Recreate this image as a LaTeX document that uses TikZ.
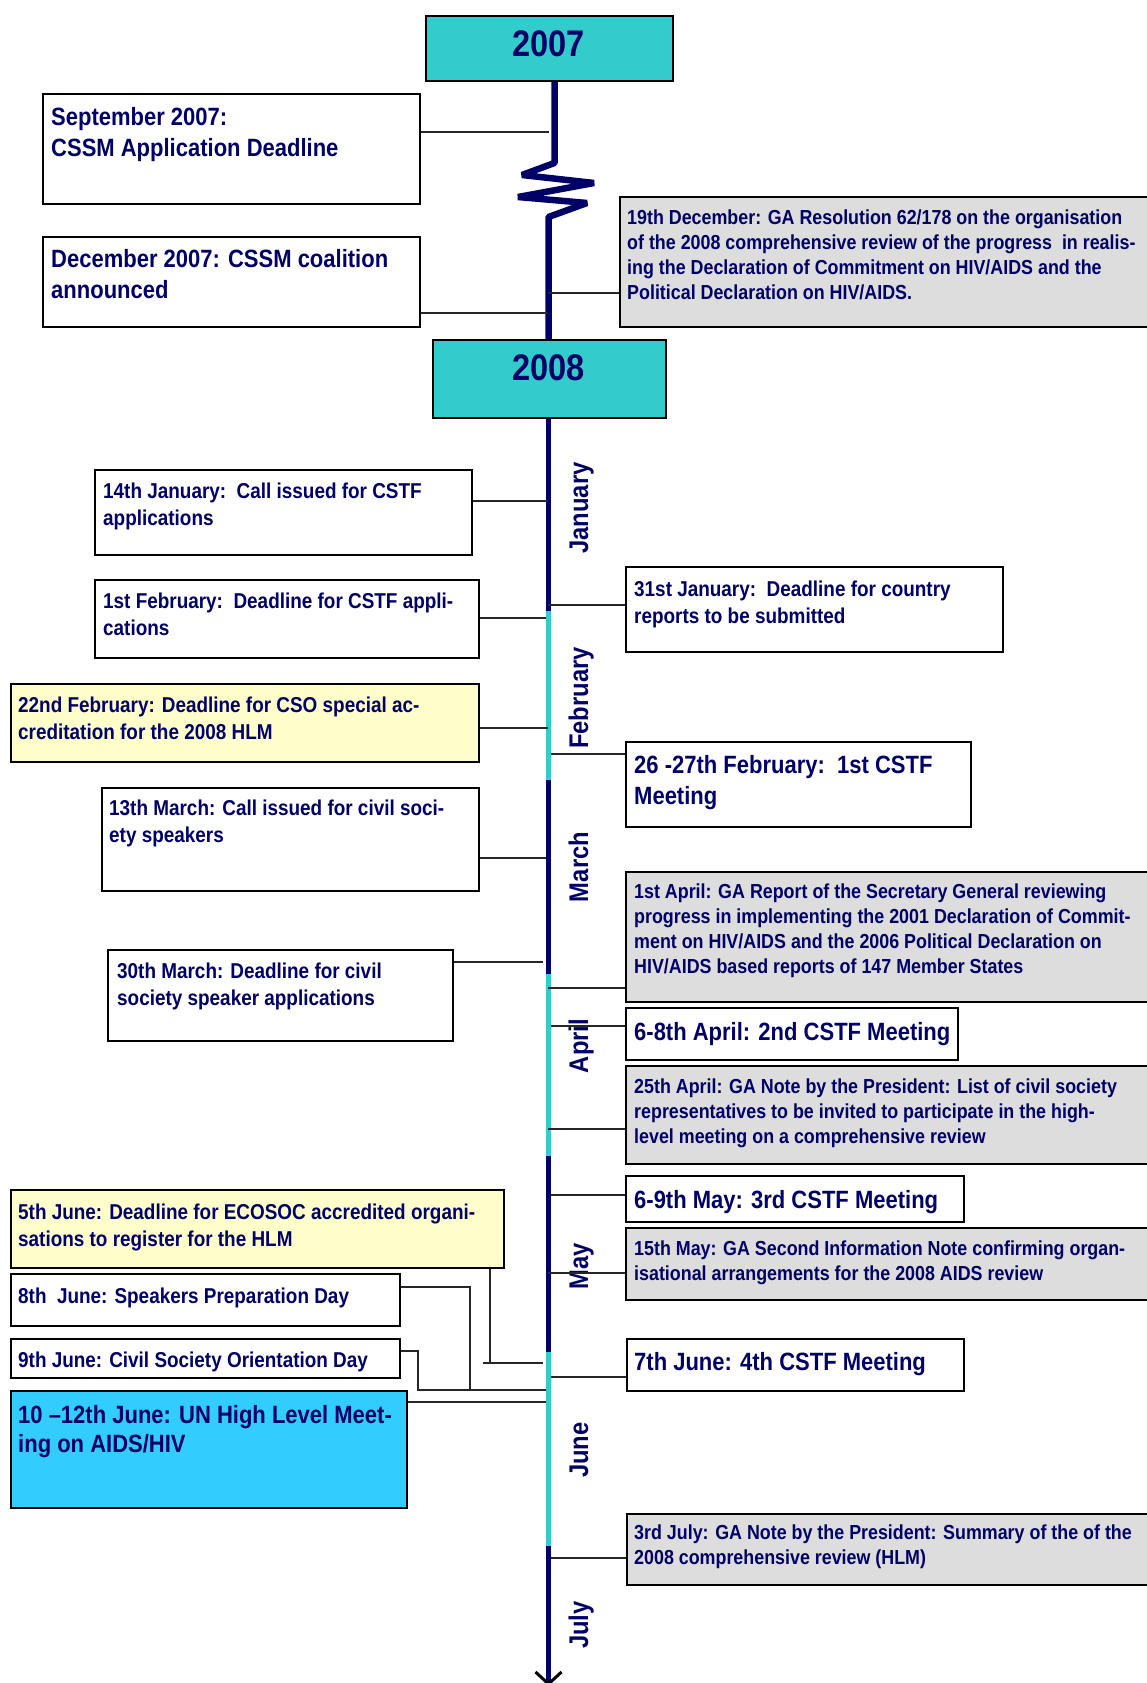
\documentclass[tikz,border=0pt]{standalone}
\usepackage{fontspec}
\newfontfamily\tf{Liberation Sans}[FakeStretch=0.88]
\usetikzlibrary{arrows.meta}
\definecolor{navy}{HTML}{000066}
\definecolor{tealb}{HTML}{33CCCC}
\definecolor{hlmb}{HTML}{33CCFF}
\definecolor{yelb}{HTML}{FFFFCC}
\definecolor{gryb}{HTML}{DDDDDD}
\newcommand\evL{\tf\bfseries\fontsize{25}{31}\selectfont}
\newcommand\evLH{\tf\bfseries\fontsize{25}{29}\selectfont}
\newcommand\evM{\tf\bfseries\fontsize{21.5}{27.5}\selectfont}
\newcommand\evS{\tf\bfseries\fontsize{20.3}{25}\selectfont}
\newcommand\evY{\tf\bfseries\fontsize{37}{40}\selectfont}
\newcommand\evMo{\tf\bfseries\fontsize{27}{30}\selectfont}
\tikzset{
  box/.style={draw=black, line width=2pt, anchor=north west, inner sep=0pt},
  ev/.style={anchor=base west, inner sep=0pt, text=navy},
  con/.style={draw=black!85, line width=1.5pt},
  axisl/.style={line width=5.5pt, draw=navy, line join=bevel},
  axisc/.style={line width=5.5pt, draw=tealb},
  mon/.style={rotate=90, anchor=base, inner sep=0pt, text=navy, font=\evMo},
}
\newcommand\ebox[6]{\node[box,fill=#2,minimum width={#5-#3},minimum height={#6-#4}] (#1) at (#3,#4) {};}
\newcommand\etext[4]{\node[ev,font=#2] (#1) at (#3) {\parbox[t]{700pt}{\raggedright #4}};}
\begin{document}
\begin{tikzpicture}[x=1pt,y=-1pt]
\clip (0,0) rectangle (1147,1683);
\fill[white] (0,0) rectangle (1147,1683);

% ---- axis above 2008 with break
\coordinate (z0) at (554.5,80);
\coordinate (z1) at (554.5,163);
\coordinate (z2) at (522,175);
\coordinate (z3) at (594,183);
\coordinate (z4) at (518,197);
\coordinate (z5) at (587,203);
\coordinate (z6) at (548.5,217);
\coordinate (z7) at (548.5,339);
\draw[axisl, line width=6.5pt] (z0) -- (z1) -- (z2) -- (z3) -- (z4) -- (z5) -- (z6) -- (z7);

% ---- month segments
\coordinate (m0) at (548.5,417);
\coordinate (m1) at (548.5,611);
\coordinate (m2) at (548.5,780);
\coordinate (m3) at (548.5,974);
\coordinate (m4) at (548.5,1156);
\coordinate (m5) at (548.5,1352);
\coordinate (m6) at (548.5,1546);
\coordinate (m7) at (548.5,1686);
\draw[axisl] (m0) -- (m1);
\draw[axisc] (m1) -- (m2);
\draw[axisl] (m2) -- (m3);
\draw[axisc] (m3) -- (m4);
\draw[axisl] (m4) -- (m5);
\draw[axisc] (m5) -- (m6);
\draw[axisl, -{Straight Barb[length=12pt, width=26pt, line width=3pt, color=black]}] (m6) -- (m7);

% ---- month labels
\node[mon] (lJan) at (588,508) {January};
\node[mon] (lFeb) at (588,698) {February};
\node[mon] (lMar) at (588,867) {March};
\node[mon] (lApr) at (588,1046) {April};
\node[mon] (lMay) at (588,1266) {May};
\node[mon] (lJun) at (588,1450) {June};
\node[mon] (lJul) at (588,1625) {July};

% ---- year boxes
\ebox{y2007}{tealb}{425}{15}{672}{80}
\node[anchor=base, inner sep=0pt, text=navy, font=\evY] (y2007t) at (548.5,57) {2007};
\ebox{y2008}{tealb}{432}{339}{665}{417}
\node[anchor=base, inner sep=0pt, text=navy, font=\evY] (y2008t) at (548.5,380) {2008};

% ---- left side boxes
\ebox{sep07}{white}{42}{93}{419}{203}
\etext{sep07t}{\evL}{51,126}{September 2007:\\CSSM Application Deadline}
\ebox{dec07}{white}{42}{236}{419}{326}
\etext{dec07t}{\evL}{51,267}{December 2007: CSSM coalition\\announced}
\ebox{jan14}{white}{94}{469}{471}{554}
\etext{jan14t}{\evM}{103,498}{14th January:\ \ Call issued for CSTF\\applications}
\ebox{feb1}{white}{94}{579}{478}{657}
\etext{feb1t}{\evM}{103,608}{1st February:\ \ Deadline for CSTF appli-\\cations}
\ebox{feb22}{yelb}{10}{683}{478}{761}
\etext{feb22t}{\evM}{18,712}{22nd February: Deadline for CSO special ac-\\creditation for the 2008 HLM}
\ebox{mar13}{white}{101}{787}{478}{890}
\etext{mar13t}{\evM}{109,815}{13th March: Call issued for civil soci-\\ety speakers}
\ebox{mar30}{white}{107}{949}{452}{1040}
\etext{mar30t}{\evM}{117,978}{30th March: Deadline for civil\\society speaker applications}
\ebox{jun5}{yelb}{10}{1189}{503}{1267}
\etext{jun5t}{\evM}{18,1219}{5th June: Deadline for ECOSOC accredited organi-\\sations to register for the HLM}
\ebox{jun8}{white}{10}{1273}{399}{1325}
\etext{jun8t}{\evM}{18,1303}{8th\ \ June: Speakers Preparation Day}
\ebox{jun9}{white}{10}{1338}{399}{1377}
\etext{jun9t}{\evM}{18,1367}{9th June: Civil Society Orientation Day}
\ebox{hlm}{hlmb}{10}{1390}{406}{1507}
\etext{hlmt}{\evLH}{18,1423}{10 –12th June: UN High Level Meet-\\ing on AIDS/HIV}

% ---- right side boxes
\ebox{dec19}{gryb}{619}{196}{1160}{326}
\etext{dec19t}{\evS}{627,224}{19th December: GA Resolution 62/178 on the organisation\\of the 2008 comprehensive review of the progress\ \ in realis-\\ing the Declaration of Commitment on HIV/AIDS and the\\Political Declaration on HIV/AIDS.}
\ebox{jan31}{white}{625}{566}{1002}{651}
\etext{jan31t}{\evM}{634,596}{31st January:\ \ Deadline for country\\reports to be submitted}
\ebox{feb26}{white}{625}{741}{970}{826}
\etext{feb26t}{\evL}{634,773}{26 -27th February:\ \ 1st CSTF\\Meeting}
\ebox{apr1}{gryb}{625}{871}{1160}{1001}
\etext{apr1t}{\evS}{634,898}{1st April: GA Report of the Secretary General reviewing\\progress in implementing the 2001 Declaration of Commit-\\ment on HIV/AIDS and the 2006 Political Declaration on\\HIV/AIDS based reports of 147 Member States}
\ebox{apr6}{white}{625}{1007}{957}{1059}
\etext{apr6t}{\evL}{634,1040}{6-8th April: 2nd CSTF Meeting}
\ebox{apr25}{gryb}{625}{1065}{1160}{1163}
\etext{apr25t}{\evS}{634,1093}{25th April: GA Note by the President: List of civil society\\representatives to be invited to participate in the high-\\level meeting on a comprehensive review}
\ebox{may6}{white}{625}{1175}{963}{1221}
\etext{may6t}{\evL}{634,1208}{6-9th May: 3rd CSTF Meeting}
\ebox{may15}{gryb}{625}{1227}{1160}{1299}
\etext{may15t}{\evS}{634,1255}{15th May: GA Second Information Note confirming organ-\\isational arrangements for the 2008 AIDS review}
\ebox{jun7}{white}{626}{1338}{963}{1390}
\etext{jun7t}{\evL}{634,1370}{7th June: 4th CSTF Meeting}
\ebox{jul3}{gryb}{626}{1513}{1160}{1584}
\etext{jul3t}{\evS}{634,1539}{3rd July: GA Note by the President: Summary of the of the\\2008 comprehensive review (HLM)}

% ---- connectors
\coordinate (cSep) at (549,132);   \draw[con] (cSep) -- (cSep -| sep07.east);
\coordinate (cDec) at (548,313);   \draw[con] (cDec) -- (cDec -| dec07.east);
\coordinate (cD19) at (548,293);   \draw[con] (cD19) -- (cD19 -| dec19.west);
\coordinate (cJ14) at (548,501);   \draw[con] (cJ14) -- (cJ14 -| jan14.east);
\coordinate (cJ31) at (548,605);   \draw[con] (cJ31) -- (cJ31 -| jan31.west);
\coordinate (cF1)  at (546,618);   \draw[con] (cF1) -- (cF1 -| feb1.east);
\coordinate (cF22) at (548,728);   \draw[con] (cF22) -- (cF22 -| feb22.east);
\coordinate (cF26) at (551,754);   \draw[con] (cF26) -- (cF26 -| feb26.west);
\coordinate (cM13) at (546,858);   \draw[con] (cM13) -- (cM13 -| mar13.east);
\coordinate (cM30) at (543,962);   \draw[con] (cM30) -- (cM30 -| mar30.east);
\coordinate (cA1)  at (548,988);   \draw[con] (cA1) -- (cA1 -| apr1.west);
\coordinate (cA6)  at (551,1026);  \draw[con] (cA6) -- (cA6 -| apr6.west);
\coordinate (cA25) at (548,1129);  \draw[con] (cA25) -- (cA25 -| apr25.west);
\coordinate (cMy6) at (551,1195);  \draw[con] (cMy6) -- (cMy6 -| may6.west);
\coordinate (cMy15) at (548,1273); \draw[con] (cMy15) -- (cMy15 -| may15.west);
\coordinate (cJ7)  at (551,1377);  \draw[con] (cJ7) -- (cJ7 -| jun7.west);
\coordinate (cJl3) at (551,1558);  \draw[con] (cJl3) -- (cJl3 -| jul3.west);
% June cluster
\coordinate (j5a) at (490,1363);
\coordinate (j5l) at (483,1363);
\coordinate (j5r) at (543,1363);
\draw[con] (j5a |- jun5.south) -- (j5a);
\draw[con] (j5l) -- (j5r);
\coordinate (j8k) at (470,1287);
\coordinate (jbus) at (546,1390);
\draw[con] (j8k -| jun8.east) -- (j8k) -- (j8k |- jbus);
\coordinate (j9k) at (418,1351);
\draw[con] (j9k -| jun9.east) -- (j9k) -- (j9k |- jbus) -- (jbus);
\coordinate (cH) at (546,1402);    \draw[con] (cH) -- (cH -| hlm.east);
\end{tikzpicture}
\end{document}
